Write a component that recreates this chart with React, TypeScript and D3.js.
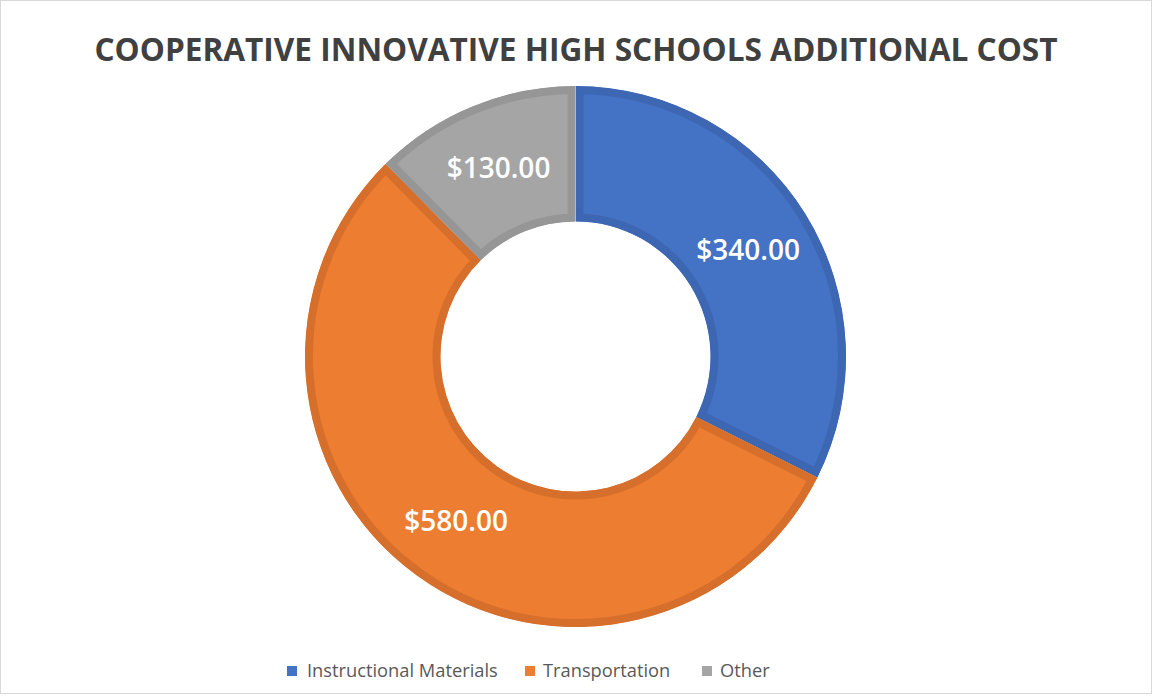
import React from "react";
import * as d3 from "d3";

const categories = ["Instructional Materials", "Transportation", "Other"];
const values = [340, 580, 130];
const fills = ["#4472C4", "#ED7D31", "#A5A5A5"];
const strokes = ["#3E67B3", "#D56F2B", "#969696"];
const title = "COOPERATIVE INNOVATIVE HIGH SCHOOLS ADDITIONAL COST";

const W = 1153;
const H = 696;
const cx = 575.5;
const cy = 356.5;
const outerR = 270.5;
const innerR = 135;
const labelR = 203;
const strokeW = 8;

export default function App() {
  const pie = d3.pie<number>().sort(null).value((d) => d)(values);
  const arc = d3.arc<d3.PieArcDatum<number>>().innerRadius(innerR).outerRadius(outerR);
  const labelArc = d3.arc<d3.PieArcDatum<number>>().innerRadius(labelR).outerRadius(labelR);
  const fmt = d3.format("$,.2f");

  const legendItems = [
    { x: 287, tx: 307 },
    { x: 525, tx: 543 },
    { x: 702, tx: 720 },
  ];

  return (
    <svg
      width={W}
      height={H}
      style={{ position: "absolute", left: 0, top: 0, background: "#fff" }}
      fontFamily="'Open Sans', 'Noto Sans', sans-serif"
    >
      <rect x={0.5} y={0.5} width={W - 2} height={H - 3} fill="#fff" stroke="#D9D9D9" strokeWidth={1} />
      <text
        x={576}
        y={61}
        textAnchor="middle"
        fontSize={31.6}
        fontWeight={700}
        fill="#404040"
      >
        {title}
      </text>
      <g transform={`translate(${cx},${cy})`}>
        <defs>
          {pie.map((p, i) => (
            <clipPath id={`clip-${i}`} key={i}>
              <path d={arc(p) || ""} />
            </clipPath>
          ))}
        </defs>
        {pie.map((p, i) => (
          <path
            key={i}
            d={arc(p) || ""}
            fill={fills[i]}
            stroke={strokes[i]}
            strokeWidth={strokeW * 2}
            clipPath={`url(#clip-${i})`}
          />
        ))}
        {pie.map((p, i) => {
          const [lx, ly] = labelArc.centroid(p);
          return (
            <text
              key={i}
              x={lx}
              y={ly}
              dy="0.35em"
              textAnchor="middle"
              fontSize={28}
              fontWeight={600}
              fill="#ffffff"
            >
              {fmt(values[i])}
            </text>
          );
        })}
      </g>
      <g>
        {categories.map((c, i) => (
          <g key={c}>
            <rect x={legendItems[i].x} y={666} width={10} height={10} fill={fills[i]} />
            <text x={legendItems[i].tx} y={671} dy="0.35em" fontSize={18.3} fill="#595959">
              {c}
            </text>
          </g>
        ))}
      </g>
    </svg>
  );
}
